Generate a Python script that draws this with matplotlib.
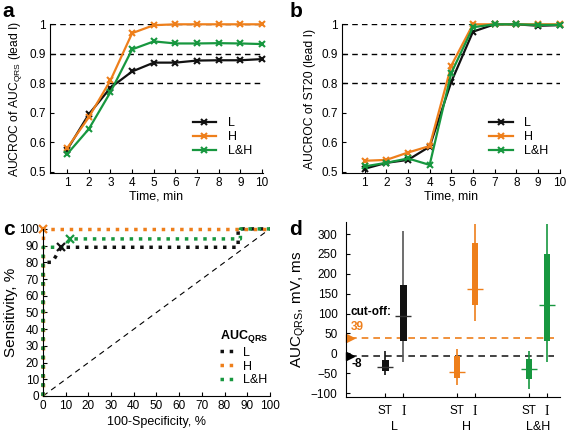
import numpy as np
import matplotlib
matplotlib.use("Agg")
import matplotlib.pyplot as plt
from matplotlib import transforms

plt.rcParams["font.family"] = ["Liberation Sans", "DejaVu Sans"]
plt.rcParams["font.size"] = 8.5

BLACK = "#111111"
ORANGE = "#EE7F1B"
GREEN = "#17973F"

# panel a / b data
minutes = [1, 2, 3, 4, 5, 6, 7, 8, 9, 10]
qrs_L = [0.575, 0.695, 0.785, 0.84, 0.87, 0.87, 0.877, 0.878, 0.878, 0.882]
qrs_H = [0.58, 0.685, 0.81, 0.97, 0.997, 1.0, 1.0, 1.0, 1.0, 1.0]
qrs_LH = [0.56, 0.645, 0.77, 0.915, 0.942, 0.935, 0.935, 0.936, 0.935, 0.933]
st_L = [0.51, 0.53, 0.54, 0.585, 0.805, 0.975, 1.0, 1.0, 0.995, 0.997]
st_H = [0.537, 0.54, 0.565, 0.587, 0.86, 1.0, 1.0, 1.0, 1.0, 1.0]
st_LH = [0.518, 0.53, 0.545, 0.523, 0.835, 0.99, 1.0, 1.0, 0.998, 0.998]

# panel c ROC curves
roc_L_x = [0, 0, 4, 8, 86, 86, 100]
roc_L_y = [0, 80, 80, 89, 89, 100, 100]
roc_H_x = [0, 0, 100]
roc_H_y = [0, 100, 100]
roc_LH_x = [0, 0, 9, 12, 87, 87, 100]
roc_LH_y = [0, 89, 89, 94, 94, 100, 100]
roc_pts = {"L": (8, 89), "H": (0, 100), "L&H": (12, 94)}

# panel d box data: ST and I for each group (whisker low, q1, median, q3, whisker high)
groups = ["L", "H", "L&H"]
st_box = {"L": (-55, -44, -34, -18, 5), "H": (-80, -62, -46, -8, 11), "L&H": (-90, -65, -40, -14, 5)}
i_box = {"L": (-23, 30, 94, 171, 307), "H": (80, 122, 162, 278, 325), "L&H": (-23, 30, 122, 250, 325)}
cutoff_H = 39
cutoff_L = -8

fig = plt.figure(figsize=(5.67, 4.34), dpi=100)

def line_panel(rect, L, H, LH, ylabel, xlim):
    ax = fig.add_axes(rect)
    for yv in [0.8, 0.9, 1.0]:
        ax.axhline(yv, color="black", ls=(0, (4, 3)), lw=1, zorder=1)
    ax.plot(minutes, L, color=BLACK, marker="x", ms=5, mew=1.5, lw=1.6, label="L", clip_on=False)
    ax.plot(minutes, H, color=ORANGE, marker="x", ms=5, mew=1.5, lw=1.6, label="H", clip_on=False)
    ax.plot(minutes, LH, color=GREEN, marker="x", ms=5, mew=1.5, lw=1.6, label="L&H", clip_on=False)
    ax.set_xlim(*xlim)
    ax.set_ylim(0.495, 1.0)
    ax.set_xticks(minutes)
    ax.set_yticks([0.5, 0.6, 0.7, 0.8, 0.9, 1.0])
    ax.set_yticklabels(["0.5", "0.6", "0.7", "0.8", "0.9", "1"])
    ax.spines[["top", "right"]].set_visible(False)
    ax.tick_params(direction="in", length=3, pad=3)
    ax.set_xlabel("Time, min", labelpad=1, fontsize=9)
    ax.set_ylabel(ylabel, labelpad=4, fontsize=8.7)
    ax.legend(loc="lower right", bbox_to_anchor=(1.0, 0.03), frameon=False,
              handlelength=1.9, labelspacing=0.18, handletextpad=0.9, fontsize=9)
    return ax

line_panel([0.088, 0.601, 0.376, 0.343], qrs_L, qrs_H, qrs_LH,
           r"AUCROC of AUC$_{\mathregular{QRS}}$ (lead I)", (0.2, 10.05))
line_panel([0.603, 0.601, 0.384, 0.343], st_L, st_H, st_LH,
           "AUCROC of ST20 (lead I)", (-0.05, 10.0))

# panel c
axc = fig.add_axes([0.076, 0.0876, 0.400, 0.385])
axc.plot([0, 100], [0, 100], color="black", ls=(0, (5, 4)), lw=0.8)
axc.plot(roc_L_x, roc_L_y, color=BLACK, ls=":", lw=2.5, label="L", clip_on=False)
axc.plot(roc_H_x, roc_H_y, color=ORANGE, ls=":", lw=2.5, label="H", clip_on=False)
axc.plot(roc_LH_x, roc_LH_y, color=GREEN, ls=":", lw=2.5, label="L&H", clip_on=False)
for name, col in [("L", BLACK), ("H", ORANGE), ("L&H", GREEN)]:
    px, py = roc_pts[name]
    axc.plot(px, py, marker="x", color=col, ms=6, mew=1.6, clip_on=False)
axc.set_xlim(0, 100)
axc.set_ylim(0, 100)
axc.set_xticks(np.arange(0, 101, 10))
axc.set_yticks(np.arange(0, 101, 10))
axc.spines[["top", "right"]].set_visible(False)
axc.tick_params(direction="in", length=3, pad=3)
axc.set_xlabel("100-Specificity, %", labelpad=3, fontsize=9)
axc.set_ylabel("Sensitivity, %", labelpad=1, fontsize=11)
leg = axc.legend(loc="lower right", bbox_to_anchor=(1.04, -0.01), frameon=False,
                 title=r"AUC$_{\mathregular{QRS}}$", handlelength=1.4,
                 labelspacing=0.15, handletextpad=0.5, fontsize=9,
                 title_fontproperties={"weight": "bold", "size": 9})
leg._legend_box.align = "left"

# panel d
axd = fig.add_axes([0.610, 0.0853, 0.377, 0.403])
colors = {"L": BLACK, "H": ORANGE, "L&H": GREEN}
xpos = []
xlabels = []
for gi, g in enumerate(groups):
    for j, stats in enumerate([st_box[g], i_box[g]]):
        x = 1 + 4 * gi + j
        xpos.append(x)
        xlabels.append(["ST", "I"][j])
        lo, q1, med, q3, hi = stats
        wcol = "#555555" if g == "L" and j == 1 else colors[g]
        axd.vlines(x, lo, hi, color=wcol, lw=1.2, zorder=2)
        axd.bar(x, q3 - q1, bottom=q1, width=0.36, color=colors[g], zorder=3)
        axd.hlines(med, x - 0.45, x + 0.45, color=colors[g] if g != "L" else "#333333", lw=1.0, zorder=4)

axd.hlines(cutoff_H, -0.95, 10.4, color=ORANGE, ls=(0, (4, 3)), lw=1.2, zorder=1)
axd.hlines(cutoff_L, -0.95, 10.4, color="#222222", ls=(0, (4, 3)), lw=1.2, zorder=1)
axd.plot(-0.95, cutoff_H, marker=">", color=ORANGE, ms=6, clip_on=False)
axd.plot(-0.95, cutoff_L, marker=">", color="black", ms=6, clip_on=False)
axd.text(-0.95, 103, "cut-off:", fontsize=8.5, fontweight="bold", va="center")
axd.text(-0.9, 65, str(cutoff_H), color=ORANGE, fontsize=8.5, fontweight="bold", va="center")
axd.text(-0.9, -27, str(cutoff_L), color="black", fontsize=8.5, fontweight="bold", va="center")

axd.set_xlim(-1.2, 10.7)
axd.set_ylim(-110, 330)
axd.set_yticks(np.arange(-100, 301, 50))
axd.set_xticks(xpos)
axd.set_xticklabels(xlabels)
for lab in axd.get_xticklabels():
    if lab.get_text() == "I":
        lab.set_fontfamily("Liberation Serif")
        lab.set_fontsize(10)
axd.spines[["top", "right"]].set_visible(False)
axd.tick_params(direction="in", length=3, pad=6)
axd.set_ylabel(r"AUC$_{\mathregular{QRS}}$, mV, ms", labelpad=2, fontsize=11)
trans = transforms.blended_transform_factory(axd.transData, axd.transAxes)
for gi, g in enumerate(groups):
    axd.text(1.5 + 4 * gi, -0.14, g, transform=trans, ha="center", va="top", fontsize=9)

for lab, (x, y) in zip("abcd", [(0.005, 0.995), (0.51, 0.995), (0.005, 0.493), (0.51, 0.493)]):
    fig.text(x, y, lab, fontsize=15, fontweight="bold", va="top")

fig.savefig("out.png", dpi=100)
